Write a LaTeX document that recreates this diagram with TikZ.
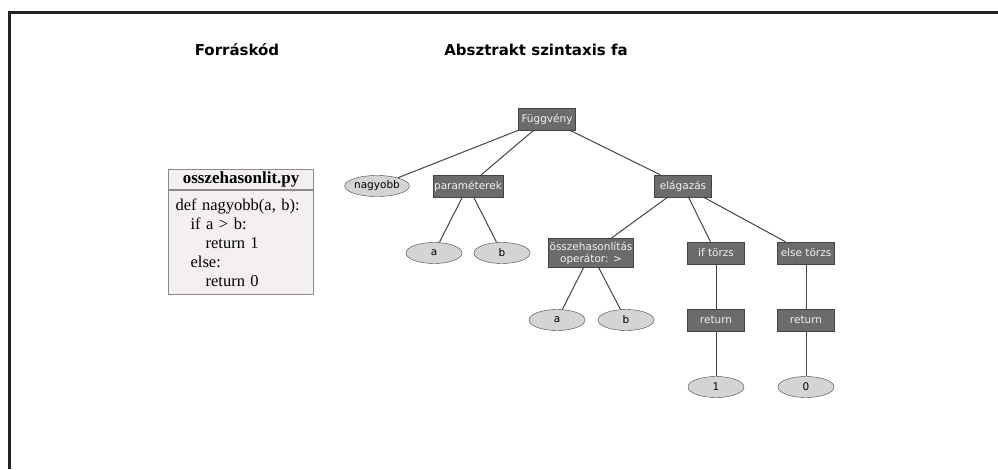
\documentclass[tikz,border=0pt]{standalone}
\usepackage{fontspec}
\setmainfont{Liberation Serif}
\newfontfamily\labelfont{DejaVu Sans}
\usetikzlibrary{shapes.geometric}
\definecolor{boxgray}{HTML}{6B6B6B}
\definecolor{boxtext}{HTML}{F2F2F2}
\definecolor{leafgray}{HTML}{D4D4D4}
\definecolor{edgegray}{HTML}{444444}
\definecolor{codefill}{HTML}{F4F0F1}
\definecolor{codeline}{HTML}{8A8A8A}
\definecolor{framegray}{HTML}{222222}
\tikzstyle{kind}=[rectangle,draw=edgegray,fill=boxgray,text=boxtext,font=\labelfont\fontsize{10.5}{12}\selectfont,minimum width=57pt,minimum height=22pt,inner sep=1pt,align=center]
\tikzstyle{leaf}=[ellipse,draw=edgegray,fill=leafgray,font=\labelfont\fontsize{10.5}{12}\selectfont,minimum width=56pt,minimum height=21pt,inner sep=0pt]
\tikzstyle{branch}=[draw=edgegray,line width=1pt]
\tikzstyle{title}=[font=\labelfont\bfseries\fontsize{15}{18}\selectfont]
\tikzstyle{code}=[rectangle,draw=codeline,fill=codefill,line width=1.2pt,minimum width=145pt]

\begin{document}
\begin{tikzpicture}[x=1pt,y=-1pt]
  \useasboundingbox (0,0) rectangle (998,469);
  \draw[framegray,line width=2.5pt] (9.5,469) |- (998,12.5);

  % titles
  \node[title] (srctitle) at (237,50) {Forráskód};
  \node[title] (asttitle) at (536,50) {Absztrakt szintaxis fa};

  % source file
  \node[code,anchor=north west,minimum height=104pt,inner xsep=7pt,inner ysep=3pt,
        align=left,font=\fontsize{16.5}{19}\selectfont,text width=131pt] (codebody) at (168,190)
    {def nagyobb(a, b):\\
     \hspace*{15pt}if a > b:\\
     \hspace*{30pt}return 1\\
     \hspace*{15pt}else:\\
     \hspace*{30pt}return 0};
  \node[code,anchor=south west,minimum height=20pt,inner sep=1pt,
        font=\bfseries\fontsize{17}{17}\selectfont] (codehead) at (168,190) {osszehasonlit.py};

  % tree
  \path node[kind] (fv) at (547,119) {Függvény}
        (377,186) node[leaf] (nagyobb) {nagyobb} edge[branch] (fv)
        (468,186) node[kind,minimum width=68pt] (params) {paraméterek} edge[branch] (fv)
        (683,186) node[kind] (elag) {elágazás} edge[branch] (fv)
        (434,253) node[leaf] (pa) {a} edge[branch] (params)
        (502,253) node[leaf] (pb) {b} edge[branch] (params)
        (591,253) node[kind,minimum width=85pt,minimum height=29pt] (cmp) {összehasonlítás\\operátor: >} edge[branch] (elag)
        (716,253) node[kind] (iftorzs) {if törzs} edge[branch] (elag)
        (806,253) node[kind] (elsetorzs) {else törzs} edge[branch] (elag)
        (557,320) node[leaf] (ca) {a} edge[branch] (cmp)
        (626,320) node[leaf] (cb) {b} edge[branch] (cmp)
        (716,320) node[kind] (ret1) {return} edge[branch] (iftorzs)
        (806,320) node[kind] (ret0) {return} edge[branch] (elsetorzs)
        (716,387) node[leaf] (one) {1} edge[branch] (ret1)
        (806,387) node[leaf] (zero) {0} edge[branch] (ret0)
        ;
\end{tikzpicture}
\end{document}
